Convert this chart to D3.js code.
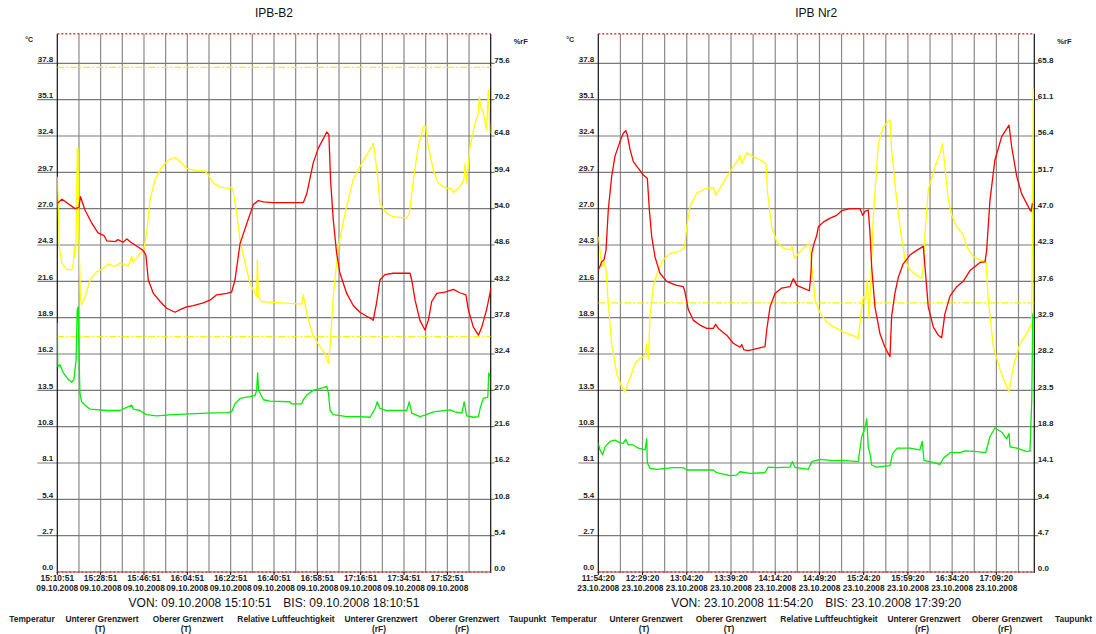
<!DOCTYPE html>
<html>
<head>
<meta charset="utf-8">
<script src="https://cdn.jsdelivr.net/npm/d3@7"></script>
<style>
  html, body { margin: 0; padding: 0; background: #fff; }
  svg { display: block; font-family: "Liberation Sans", Arial, Helvetica, sans-serif; }
</style>
</head>
<body>
<svg id="chart" width="1096" height="634"></svg>
<script>
// ---- axis ticks -------------------------------------------------------
const tempTicks = [0, 2.7, 5.4, 8.1, 10.8, 13.5, 16.2, 18.9, 21.6, 24.3, 27.0, 29.7, 32.4, 35.1, 37.8];
const tempTickLabels = ["0.0","2.7","5.4","8.1","10.8","13.5","16.2","18.9","21.6","24.3","27.0","29.7","32.4","35.1","37.8"];
const rhTickLabelsB2 = ["0.0","5.4","10.8","16.2","21.6","27.0","32.4","37.8","43.2","48.6","54.0","59.4","64.8","70.2","75.6"];
const rhTickLabelsNr2 = ["0.0","4.7","9.4","14.1","18.8","23.5","28.2","32.9","37.6","42.3","47.0","51.7","56.4","61.1","65.8"];

// limit values: Unterer/Oberer Grenzwert
const limitsT = [0, 40];
const limitsRH = [35, 75];

const legendItems = [
  ["Temperatur", ""],
  ["Unterer Grenzwert", "(T)"],
  ["Oberer Grenzwert", "(T)"],
  ["Relative Luftfeuchtigkeit", ""],
  ["Unterer Grenzwert", "(rF)"],
  ["Oberer Grenzwert", "(rF)"],
  ["Taupunkt", ""]
];

// ---- IPB-B2, 09.10.2008 15:10:51 - 18:10:51 (minutes since start, value) ----
const tempB2 = [
  [0,27.4],[1.95,27.7],[7.35,27.0],[9.0,27.1],[9.6,27.9],[11.5,26.9],[14.4,25.9],[16.9,25.2],
  [19.4,25.0],[20.6,24.6],[24.0,24.55],[25.2,24.7],[27.3,24.5],[28.9,24.75],[31.0,24.45],[33.1,24.2],
  [35.6,23.9],[36.8,23.55],[37.8,21.7],[39.9,20.7],[42.7,20.1],[45.4,19.6],[48.9,19.3],[51.0,19.5],
  [53.7,19.7],[56.5,19.8],[60.6,20.0],[63.4,20.2],[66.2,20.6],[70.4,20.7],[72.4,20.8],[73.8,21.7],
  [75.9,24.4],[78.7,25.9],[81.4,27.3],[83.5,27.6],[85.6,27.5],[89.7,27.45],[102.2,27.45],[103.6,28.1],
  [106.3,30.4],[108.4,31.5],[110.5,32.2],[111.9,32.7],[112.8,32.5],[113.5,29.1],[114.6,26.2],[116.0,23.7],
  [117.4,22.2],[120.2,20.7],[122.9,19.8],[125.7,19.3],[128.5,19.0],[130.6,18.8],[131.2,18.7],[132.6,20.0],
  [134.0,21.7],[136.1,22.1],[139.5,22.2],[146.5,22.2],[147.2,21.7],[148.6,20.2],[150.6,18.7],[152.7,17.98],
  [154.1,18.7],[155.5,20.1],[157.6,20.7],[161.0,20.8],[164.5,21.0],[167.2,20.75],[169.7,20.6],[170.7,19.5],
  [172.8,18.2],[174.9,17.6],[176.3,18.2],[178.3,19.5],[179.7,20.7],[180,21.1]
];
const rhB2 = [
  [0,58.75],[0.42,53.8],[0.83,48.3],[1.83,45.9],[3.9,45.0],[6.0,44.9],[6.6,45.6],[7.1,48.3],[7.35,46.8],
  [7.8,49.3],[8.3,63.0],[8.6,63.0],[8.9,51.3],[9.1,47.8],[9.7,40.4],[10.1,39.7],[11.5,40.9],[13.6,43.4],
  [16.4,44.6],[19.1,45.1],[21.2,45.8],[24.0,45.4],[26.0,45.9],[29.5,45.5],[30.9,46.9],[31.6,46.0],
  [34.3,47.3],[35.9,47.9],[37.1,50.3],[38.5,55.3],[40.6,58.3],[43.4,60.2],[46.1,61.2],[48.9,61.6],
  [51.0,61.0],[53.7,60.0],[57.9,59.6],[61.3,59.6],[62.7,59.0],[64.8,57.8],[67.6,57.2],[71.0,57.0],
  [72.4,57.2],[73.1,56.5],[74.5,53.3],[75.9,49.3],[78.0,45.9],[80.0,42.9],[82.1,41.4],[82.8,40.9],
  [83.1,46.4],[83.5,40.9],[84.9,40.2],[88.3,40.1],[101.5,39.8],[102.2,41.2],[103.6,38.4],[106.3,35.0],
  [109.1,33.5],[111.2,32.5],[112.6,31.0],[113.3,33.5],[114.6,40.9],[116.7,48.3],[119.5,53.3],[122.9,58.3],
  [127.1,61.2],[130.6,63.2],[131.2,63.7],[132.6,60.2],[134.0,54.8],[136.8,53.3],[139.5,52.8],[145.1,52.6],
  [146.2,53.3],[147.9,58.3],[149.9,63.2],[152.0,66.2],[153.0,66.2],[154.1,63.2],[156.2,59.7],[158.2,57.8],
  [161.7,57.0],[163.8,57.0],[164.5,56.4],[167.3,57.3],[168.9,58.3],[169.3,60.7],[170.0,57.8],[171.4,63.2],
  [173.5,66.7],[174.9,68.2],[175.3,70.6],[175.8,69.2],[176.9,68.2],[178.3,65.7],[179.0,71.6],[179.7,65.2]
];
const dewB2 = [
  [0,18.5],[0.17,15.25],[1.1,15.4],[2.5,14.8],[4.6,14.3],[6.0,14.1],[6.9,14.3],[7.8,15.75],[8.3,19.5],
  [8.7,19.7],[9.1,15.5],[9.4,13.3],[10.1,12.65],[11.5,12.4],[13.6,12.1],[20.5,12.0],[26.0,12.0],[30.9,12.4],
  [31.6,12.1],[34.3,12.0],[35.9,11.8],[37.1,11.7],[41.3,11.6],[48.2,11.7],[55.1,11.75],[62.0,11.8],
  [70.4,11.85],[72.4,11.9],[73.8,12.5],[75.9,12.9],[78.7,13.0],[82.1,13.1],[82.8,13.5],[83.2,14.8],
  [83.6,13.5],[85.6,12.8],[88.3,12.7],[96.6,12.65],[97.3,12.5],[101.5,12.5],[102.2,12.8],[103.6,13.15],
  [106.3,13.5],[110.5,13.7],[111.9,13.8],[112.6,13.3],[113.3,12.0],[114.6,11.7],[120.2,11.55],[125.7,11.55],
  [129.9,11.5],[132.0,12.15],[132.9,12.65],[134.0,12.15],[136.8,12.0],[145.1,12.0],[146.2,12.65],[147.2,11.8],
  [150.6,11.55],[152.7,11.65],[156.2,11.9],[163.1,12.05],[165.2,11.9],[168.0,11.8],[169.0,12.65],[170.0,11.6],
  [172.8,11.5],[174.9,11.55],[175.6,12.15],[176.9,12.9],[178.8,13.0],[179.2,14.8],[179.7,14.5]
];

// ---- IPB Nr2, 23.10.2008 11:54:20 - 17:39:20 --------------------------------
const tempNr2 = [
  [0,22.44],[1.3,22.7],[2.7,23.05],[4.5,23.2],[6.1,23.9],[7.9,26.9],[10.6,29.4],[13.2,30.9],[17.2,32.0],
  [19.8,32.6],[21.7,32.8],[22.9,32.5],[25.1,31.4],[27.7,30.5],[31.7,30.0],[35.6,29.5],[38.8,29.25],
  [40.4,26.9],[42.3,24.9],[44.9,23.4],[48.8,22.2],[54.1,21.6],[62.0,21.3],[67.3,21.2],[68.6,20.8],
  [71.2,19.5],[75.2,18.7],[80.5,18.35],[85.8,18.1],[91.0,18.1],[92.9,18.4],[95.0,18.1],[101.6,17.6],
  [106.8,17.0],[112.1,16.7],[113.5,16.9],[115.3,16.5],[118.7,16.45],[125.3,16.6],[131.9,16.75],[133.3,18.0],
  [135.9,19.7],[139.8,20.7],[145.1,21.1],[151.7,21.2],[154.3,21.8],[157.0,21.3],[162.2,21.1],[167.0,20.9],
  [168.3,22.2],[168.9,23.7],[170.7,24.4],[172.8,25.0],[174.1,25.65],[178.0,26.0],[183.4,26.3],[188.6,26.5],
  [192.6,26.85],[199.2,27.0],[207.1,27.0],[209.2,26.5],[211.0,26.8],[213.6,26.9],[215.0,25.2],[216.3,22.7],
  [218.9,19.7],[222.9,17.7],[226.8,16.7],[230.8,16.0],[232.1,19.0],[234.7,20.7],[237.4,21.9],[241.3,22.9],
  [246.6,23.55],[251.9,23.9],[257.2,24.2],[258.5,22.7],[261.1,19.7],[265.1,18.2],[269.0,17.6],[271.7,17.4],
  [274.3,19.2],[278.3,20.5],[283.6,21.2],[288.8,21.6],[294.1,22.4],[299.4,22.8],[302.0,23.0],[306.0,23.05],
  [307.3,23.9],[309.9,27.6],[313.8,30.6],[319.2,32.35],[325.0,33.2],[327.1,31.6],[331.1,29.4],[335.0,28.1],
  [341.6,26.9],[342.6,26.8],[343.4,27.4]
];
const rhNr2 = [
  [0,43.6],[0.8,42.7],[2.7,39.7],[4.5,40.35],[6.1,39.3],[7.9,34.9],[10.6,29.7],[14.6,25.8],[18.5,24.1],
  [21.1,23.4],[22.9,24.3],[26.4,25.8],[29.0,27.1],[33.0,27.8],[37.0,28.1],[38.3,29.7],[39.6,27.6],
  [40.9,33.2],[43.5,37.1],[47.5,39.3],[51.4,40.6],[56.7,41.4],[63.3,41.65],[68.1,42.1],[70.0,44.9],
  [72.6,47.5],[77.9,49.25],[84.4,49.8],[91.0,50.0],[93.1,49.0],[96.3,49.9],[101.6,51.4],[106.8,52.7],
  [110.8,53.6],[112.1,54.2],[113.5,53.1],[117.4,54.5],[122.7,54.0],[128.0,53.6],[132.7,53.1],[134.0,49.2],
  [137.2,44.9],[141.2,42.95],[146.4,42.1],[151.7,41.9],[153.5,42.3],[155.1,40.8],[158.3,41.4],[162.2,42.1],
  [167.0,42.7],[168.4,40.6],[170.1,38.0],[171.5,35.4],[175.4,33.7],[180.7,32.5],[186.0,31.9],[193.9,31.2],
  [201.8,30.7],[205.7,30.4],[207.6,33.2],[209.7,35.8],[211.6,35.4],[212.9,38.0],[214.2,33.0],[215.5,37.5],
  [217.6,46.2],[221.6,55.7],[225.5,57.9],[230.8,58.8],[232.1,54.9],[234.7,50.5],[238.7,44.9],[242.7,40.6],
  [246.6,39.3],[251.9,38.6],[255.9,38.2],[257.2,39.7],[258.5,44.0],[261.1,49.7],[266.4,52.7],[270.3,54.4],
  [272.4,55.7],[274.3,52.7],[276.9,48.4],[279.6,46.4],[283.6,44.9],[288.8,43.8],[291.5,42.3],[296.7,41.0],
  [302.0,40.6],[306.8,40.3],[308.6,35.4],[312.6,29.3],[317.9,26.3],[323.2,24.1],[325.0,23.4],[328.4,26.7],
  [333.7,29.7],[339.0,31.0],[342.9,32.3],[343.6,45.0],[344.2,62.9]
];
const dewNr2 = [
  [0,9.56],[1.3,9.07],[3.5,8.7],[5.3,9.3],[9.3,9.7],[13.2,9.8],[17.2,9.6],[19.8,9.56],[21.7,9.86],
  [23.7,9.44],[27.7,9.44],[31.7,9.2],[37.0,9.07],[38.3,9.9],[38.8,8.1],[40.9,7.7],[46.2,7.63],[59.3,7.75],
  [67.3,7.75],[70.0,7.58],[91.0,7.58],[93.7,7.38],[104.2,7.16],[109.5,7.2],[112.1,7.45],[120.0,7.33],
  [131.9,7.38],[134.5,7.8],[141.2,7.75],[151.7,7.8],[153.5,8.2],[155.6,7.78],[166.2,7.63],[168.9,8.2],
  [175.4,8.37],[186.0,8.27],[193.9,8.3],[205.7,8.2],[208.4,10.05],[211.0,10.7],[212.4,11.4],[213.6,9.3],
  [215.0,8.8],[216.3,7.95],[220.3,7.8],[230.8,7.9],[232.9,8.8],[236.6,9.2],[246.6,9.2],[254.5,9.07],
  [256.3,9.7],[257.7,8.3],[262.5,8.2],[270.3,8.0],[273.0,8.45],[278.3,8.87],[286.2,8.87],[290.1,9.0],
  [299.4,8.94],[306.5,8.87],[309.9,10.05],[313.8,10.7],[319.2,10.4],[323.2,9.9],[325.0,10.3],[325.8,9.3],
  [331.1,9.2],[339.0,8.94],[341.6,9.0],[343.0,12.8],[343.8,19.2]
];

// ---- panel setup --------------------------------------------------------
const panels = [
  {
    id: "b2", title: "IPB-B2",
    start: new Date(2008, 9, 9, 15, 10, 51), minutes: 180, gridStep: 9, labelStep: 18,
    rhMax: 80, rhLabels: rhTickLabelsB2,
    temp: tempB2, rh: rhB2, dew: dewB2,
    left: 57.3, right: 490.7,
    legendX: [32, 102, 188, 286, 381, 464, 509], clipRight: 548
  },
  {
    id: "nr2", title: "IPB Nr2",
    start: new Date(2008, 9, 23, 11, 54, 20), minutes: 345, gridStep: 17.5, labelStep: 35,
    rhMax: 70, rhLabels: rhTickLabelsNr2,
    temp: tempNr2, rh: rhNr2, dew: dewNr2,
    left: 598.3, right: 1034.3,
    legendX: [574, 646, 731, 829, 924, 1007, 1055], clipRight: 1096
  }
];

const TOP = 33.7, BOTTOM = 572;
const fmtTime = d3.timeFormat("%H:%M:%S");
const fmtDate = d3.timeFormat("%d.%m.%Y");
const svg = d3.select("#chart");
svg.append("rect").attr("width", 1096).attr("height", 634).attr("fill", "#fff");

const colors = { temp: "#ff0000", rh: "#ffff00", dew: "#00ee00" };

function drawPanel(p) {
  const g = svg.append("g").attr("class", "panel-" + p.id);
  const x = d3.scaleLinear().domain([0, p.minutes]).range([p.left, p.right]);
  const yT = d3.scaleLinear().domain([0, 40]).range([BOTTOM, TOP]);
  const yH = d3.scaleLinear().domain([0, p.rhMax]).range([BOTTOM, TOP]);

  // title
  g.append("text").attr("x", (p.left + p.right) / 2).attr("y", 16.5)
    .attr("text-anchor", "middle").attr("font-size", 12).attr("fill", "#111").text(p.title);

  // vertical grid
  const vGrid = d3.range(p.gridStep, p.minutes, p.gridStep);
  g.append("g").selectAll("line").data(vGrid).join("line")
    .attr("x1", d => x(d)).attr("x2", d => x(d))
    .attr("y1", TOP).attr("y2", BOTTOM + 1)
    .attr("stroke", "#8a8a8a").attr("stroke-width", 1.2);

  // horizontal grid, running under the left labels and a little past the right axis
  g.append("g").selectAll("line").data(tempTicks.slice(1)).join("line")
    .attr("x1", p.left - 20).attr("x2", p.right + 4)
    .attr("y1", d => yT(d)).attr("y2", d => yT(d))
    .attr("stroke", "#7a7a7a").attr("stroke-width", 1.2);

  // left (°C) labels
  g.append("g").selectAll("text").data(tempTicks).join("text")
    .attr("x", p.left - 4).attr("y", d => yT(d) - 1.8)
    .attr("text-anchor", "end").attr("font-size", 8).attr("font-weight", "bold").attr("fill", "#222")
    .text((d, i) => tempTickLabels[i]);

  // right (%rF) labels at the same heights
  g.append("g").selectAll("text").data(tempTicks).join("text")
    .attr("x", p.right + 3.5).attr("y", d => yT(d) - 0.8)
    .attr("font-size", 8).attr("font-weight", "bold").attr("fill", "#222")
    .text((d, i) => p.rhLabels[i]);

  // unit captions
  g.append("text").attr("x", p.left - 32).attr("y", 42).attr("font-size", 7)
    .attr("font-weight", "bold").attr("fill", "#222").text("°C");
  g.append("text").attr("x", p.right + 23).attr("y", 43.5).attr("font-size", 7.5)
    .attr("font-weight", "bold").attr("fill", "#222").text("%rF");

  // axes
  g.append("line").attr("x1", p.left).attr("x2", p.left).attr("y1", TOP).attr("y2", BOTTOM + 1)
    .attr("stroke", "#111").attr("stroke-width", 1.2);
  g.append("line").attr("x1", p.right).attr("x2", p.right).attr("y1", TOP).attr("y2", BOTTOM + 1)
    .attr("stroke", "#111").attr("stroke-width", 1.2);
  g.append("line").attr("x1", p.left).attr("x2", p.right).attr("y1", BOTTOM).attr("y2", BOTTOM)
    .attr("stroke", "#666").attr("stroke-width", 1.2);

  // clip for plotted series and limit lines
  const clipId = "clip-" + p.id;
  svg.append("clipPath").attr("id", clipId).append("rect")
    .attr("x", p.left).attr("y", TOP - 1).attr("width", p.right - p.left).attr("height", BOTTOM - TOP + 2);
  const plot = g.append("g").attr("clip-path", `url(#${clipId})`);

  // limit lines (temperature: red dotted, humidity: yellow dash-dot)
  plot.selectAll("line.limT").data(limitsT).join("line").attr("class", "limT")
    .attr("x1", p.left).attr("x2", p.right)
    .attr("y1", d => yT(d)).attr("y2", d => yT(d))
    .attr("stroke", "#ff3030").attr("stroke-width", 1.4).attr("stroke-dasharray", "2,2");
  plot.selectAll("line.limH").data(limitsRH.filter(d => d <= p.rhMax)).join("line").attr("class", "limH")
    .attr("x1", p.left).attr("x2", p.right)
    .attr("y1", d => yH(d)).attr("y2", d => yH(d))
    .attr("stroke", "#f4f400").attr("stroke-width", 1.2).attr("stroke-dasharray", "7,2,2,2");

  // series
  const lineT = d3.line().x(d => x(d[0])).y(d => yT(d[1]));
  const lineH = d3.line().x(d => x(d[0])).y(d => yH(d[1]));
  plot.append("path").datum(p.rh).attr("d", lineH)
    .attr("fill", "none").attr("stroke", colors.rh).attr("stroke-width", 1.3).attr("stroke-linejoin", "round");
  plot.append("path").datum(p.dew).attr("d", lineT)
    .attr("fill", "none").attr("stroke", colors.dew).attr("stroke-width", 1.3).attr("stroke-linejoin", "round");
  plot.append("path").datum(p.temp).attr("d", lineT)
    .attr("fill", "none").attr("stroke", colors.temp).attr("stroke-width", 1.3).attr("stroke-linejoin", "round");

  // time axis labels
  const labelTicks = d3.range(0, p.minutes, p.labelStep).map(m => new Date(+p.start + m * 60000));
  const xt = m => x((m - p.start) / 60000);
  g.append("g").selectAll("line").data(labelTicks).join("line")
    .attr("x1", d => xt(d)).attr("x2", d => xt(d)).attr("y1", BOTTOM).attr("y2", BOTTOM + 3)
    .attr("stroke", "#111").attr("stroke-width", 1);
  g.append("g").selectAll("text").data(labelTicks).join("text")
    .attr("x", d => xt(d)).attr("y", 580.5).attr("text-anchor", "middle")
    .attr("font-size", 8.4).attr("font-weight", "bold").attr("fill", "#222").text(d => fmtTime(d));
  g.append("g").selectAll("text").data(labelTicks).join("text")
    .attr("x", d => xt(d)).attr("y", 591).attr("text-anchor", "middle")
    .attr("font-size", 8.4).attr("font-weight", "bold").attr("fill", "#222").text(d => fmtDate(d));

  // period caption
  const end = new Date(+p.start + p.minutes * 60000);
  const cap = g.append("text").attr("x", (p.left + p.right) / 2).attr("y", 606.5)
    .attr("text-anchor", "middle").attr("font-size", 12).attr("fill", "#111");
  cap.append("tspan").text(`VON: ${fmtDate(p.start)} ${fmtTime(p.start)}`);
  cap.append("tspan").attr("dx", 12).text(`BIS: ${fmtDate(end)} ${fmtTime(end)}`);

  // legend captions (swatches are not drawn), cut at the panel edge
  const legClipId = "legclip-" + p.id;
  svg.append("clipPath").attr("id", legClipId).append("rect")
    .attr("x", p.left - 60).attr("y", 608).attr("width", p.clipRight - (p.left - 60)).attr("height", 30);
  const leg = g.append("g").attr("clip-path", `url(#${legClipId})`)
    .attr("font-size", 8.4).attr("font-weight", "bold").attr("fill", "#222");
  legendItems.forEach((it, i) => {
    const last = i === legendItems.length - 1;
    leg.append("text").attr("x", p.legendX[i]).attr("y", 621.5)
      .attr("text-anchor", last ? "start" : "middle").text(it[0]);
    if (it[1]) {
      leg.append("text").attr("x", p.legendX[i] - 2).attr("y", 631.5)
        .attr("text-anchor", "middle").text(it[1]);
    }
  });
}

panels.forEach(drawPanel);
</script>
</body>
</html>
